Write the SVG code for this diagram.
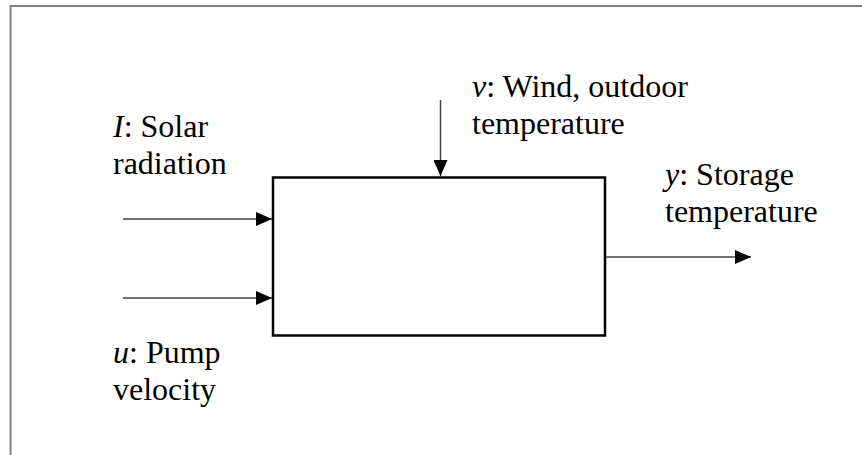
<svg xmlns="http://www.w3.org/2000/svg" width="862" height="455" viewBox="0 0 862 455">
<style>
.frame{stroke:#808080;stroke-width:2;fill:none}
.box{stroke:#000;stroke-width:2.5;fill:#fff}
.conn{stroke:#404040;stroke-width:1.5;fill:none}
text{font-family:"Liberation Serif","Times New Roman",serif;font-size:32px;fill:#000}
.i{font-style:italic}
</style>
<defs>
<marker id="ah" viewBox="0 0 16 14" refX="16" refY="7" markerWidth="16" markerHeight="14" markerUnits="userSpaceOnUse" orient="auto">
<path d="M0,0 L16,7 L0,14 Z" fill="#000"/>
</marker>
</defs>
<g id="frame">
<path class="frame" d="M10.5,455 V6 H862"/>
</g>
<g id="system">
<rect class="box" x="273" y="177.5" width="332" height="158"/>
</g>
<g id="connectors">
<line class="conn" x1="123" y1="219" x2="272" y2="219" marker-end="url(#ah)"/>
<line class="conn" x1="123" y1="298" x2="272" y2="298" marker-end="url(#ah)"/>
<line class="conn" x1="440.5" y1="100" x2="440.5" y2="176" marker-end="url(#ah)"/>
<line class="conn" x1="606" y1="257" x2="751" y2="257" marker-end="url(#ah)"/>
</g>
<g id="label-v">
<text x="472" y="97"><tspan class="i">v</tspan>: Wind, outdoor</text>
<text x="472" y="134">temperature</text>
</g>
<g id="label-I">
<text x="113" y="137"><tspan class="i">I</tspan>: Solar</text>
<text x="113" y="174">radiation</text>
</g>
<g id="label-y">
<text x="665" y="185"><tspan class="i">y</tspan>: Storage</text>
<text x="665" y="222">temperature</text>
</g>
<g id="label-u">
<text x="113" y="363"><tspan class="i">u</tspan>: Pump</text>
<text x="113" y="400">velocity</text>
</g>
</svg>
